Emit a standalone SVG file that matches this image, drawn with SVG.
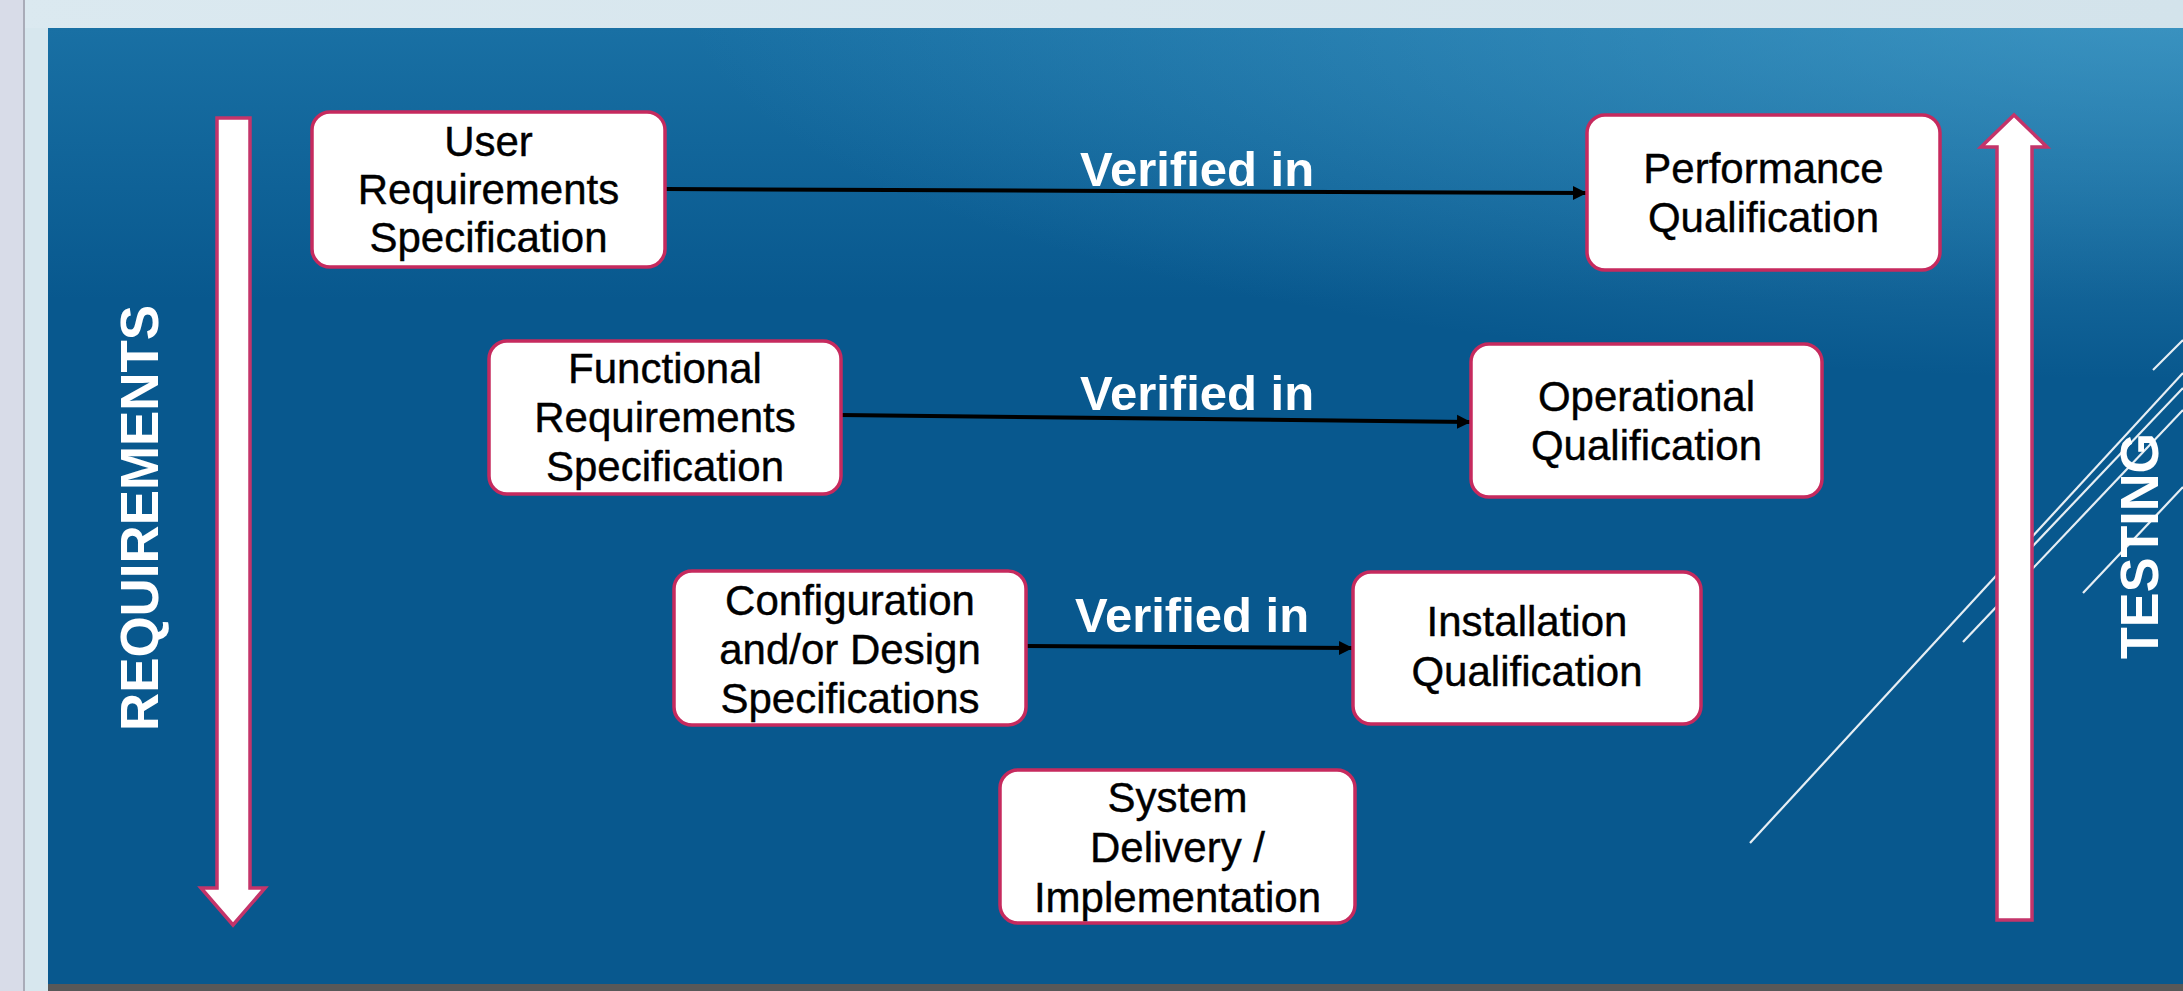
<svg xmlns="http://www.w3.org/2000/svg" width="2183" height="991" viewBox="0 0 2183 991">
<defs>
<style>
.box{fill:#ffffff;stroke:#c62a5e;stroke-width:3.5}
.bt{font-family:"Liberation Sans",Arial,sans-serif;font-size:42px;fill:#000;stroke:#000;stroke-width:0.4;text-anchor:middle}
.vl{font-family:"Liberation Sans",Arial,sans-serif;font-size:49px;font-weight:bold;fill:#fff;text-anchor:middle}
.side{font-family:"Liberation Sans",Arial,sans-serif;font-size:54px;font-weight:bold;fill:#fff;text-anchor:middle}
.conn{stroke:#000;stroke-width:4;fill:none;marker-end:url(#ah)}
.big{fill:#fff;stroke:#c4346a;stroke-width:3.5;stroke-linejoin:miter}
.deco{stroke:#ffffff;stroke-width:2.2;fill:none;opacity:0.9}
</style>
<marker id="ah" markerUnits="userSpaceOnUse" markerWidth="14" markerHeight="16" refX="13" refY="8" orient="auto">
<path d="M0,1 L14,8 L0,15 z" fill="#000"/>
</marker>
<linearGradient id="gv" gradientUnits="userSpaceOnUse" x1="0" y1="28" x2="0" y2="300">
<stop offset="0" stop-color="#2a88ba" stop-opacity="0.5"/>
<stop offset="1" stop-color="#2a88ba" stop-opacity="0"/>
</linearGradient>
<radialGradient id="gr" gradientUnits="userSpaceOnUse" cx="2183" cy="0" r="1000" gradientTransform="translate(2183,0) scale(1.5,0.38) translate(-2183,0)">
<stop offset="0" stop-color="#58b2da" stop-opacity="0.55"/>
<stop offset="1" stop-color="#58b2da" stop-opacity="0"/>
</radialGradient>
<linearGradient id="gtop" x1="0" y1="0" x2="1" y2="0">
<stop offset="0" stop-color="#dbe9f0"/>
<stop offset="1" stop-color="#d3e3eb"/>
</linearGradient>
</defs>

<g id="frame">
<rect x="0" y="0" width="2183" height="991" fill="#d7e7ee"/>
<rect x="0" y="0" width="2183" height="28" fill="url(#gtop)"/>
<rect x="0" y="0" width="23" height="991" fill="#d8dce8"/>
<rect x="23" y="0" width="2" height="991" fill="#a9acb8"/>
<rect x="48" y="28" width="2135" height="956" fill="#08588e"/>
<rect x="48" y="28" width="2135" height="300" fill="url(#gv)"/>
<rect x="48" y="28" width="2135" height="500" fill="url(#gr)"/>
<rect x="48" y="984" width="2135" height="7" fill="#585858"/>
</g>

<g id="decoration">
<line class="deco" x1="1750" y1="843" x2="2183" y2="373"/>
<line class="deco" x1="1963" y1="642" x2="2183" y2="410"/>
<line class="deco" x1="2010" y1="570" x2="2183" y2="388"/>
<line class="deco" x1="2083" y1="593" x2="2183" y2="487"/>
<line class="deco" x1="2153" y1="370" x2="2183" y2="340"/>
</g>

<g id="requirements-arrow">
<path class="big" d="M217,118 L250,118 L250,888 L265,888 L233,925 L201,888 L217,888 Z"/>
<text class="side" transform="translate(158,518) rotate(-90)" textLength="426" lengthAdjust="spacingAndGlyphs">REQUIREMENTS</text>
</g>

<g id="testing-arrow">
<path class="big" d="M1997,920 L2032,920 L2032,147 L2047,147 L2014,115 L1981,147 L1997,147 Z"/>
<text class="side" transform="translate(2158,546) rotate(-90)" textLength="226" lengthAdjust="spacingAndGlyphs">TESTING</text>
</g>

<g id="connectors">
<line class="conn" x1="665" y1="189" x2="1586" y2="193"/>
<line class="conn" x1="841" y1="415" x2="1470" y2="422"/>
<line class="conn" x1="1026" y1="646" x2="1352" y2="648"/>
<text class="vl" x="1197" y="186">Verified in</text>
<text class="vl" x="1197" y="410">Verified in</text>
<text class="vl" x="1192" y="632">Verified in</text>
</g>

<g id="urs">
<rect class="box" x="312" y="112" width="353" height="155" rx="18"/>
<text class="bt" x="488.5" y="156">User</text>
<text class="bt" x="488.5" y="204">Requirements</text>
<text class="bt" x="488.5" y="252">Specification</text>
</g>

<g id="pq">
<rect class="box" x="1587" y="115" width="353" height="155" rx="18"/>
<text class="bt" x="1763.5" y="183">Performance</text>
<text class="bt" x="1763.5" y="232">Qualification</text>
</g>

<g id="frs">
<rect class="box" x="489" y="341" width="352" height="153" rx="18"/>
<text class="bt" x="665" y="383">Functional</text>
<text class="bt" x="665" y="432">Requirements</text>
<text class="bt" x="665" y="481">Specification</text>
</g>

<g id="oq">
<rect class="box" x="1471" y="344" width="351" height="153" rx="18"/>
<text class="bt" x="1646.5" y="411">Operational</text>
<text class="bt" x="1646.5" y="460">Qualification</text>
</g>

<g id="cds">
<rect class="box" x="674" y="571" width="352" height="154" rx="18"/>
<text class="bt" x="850" y="615">Configuration</text>
<text class="bt" x="850" y="664">and/or Design</text>
<text class="bt" x="850" y="713">Specifications</text>
</g>

<g id="iq">
<rect class="box" x="1353" y="572" width="348" height="152" rx="18"/>
<text class="bt" x="1527" y="636">Installation</text>
<text class="bt" x="1527" y="686">Qualification</text>
</g>

<g id="sdi">
<rect class="box" x="1000" y="770" width="355" height="153" rx="18"/>
<text class="bt" x="1177.5" y="812">System</text>
<text class="bt" x="1177.5" y="862">Delivery /</text>
<text class="bt" x="1177.5" y="912">Implementation</text>
</g>
</svg>
